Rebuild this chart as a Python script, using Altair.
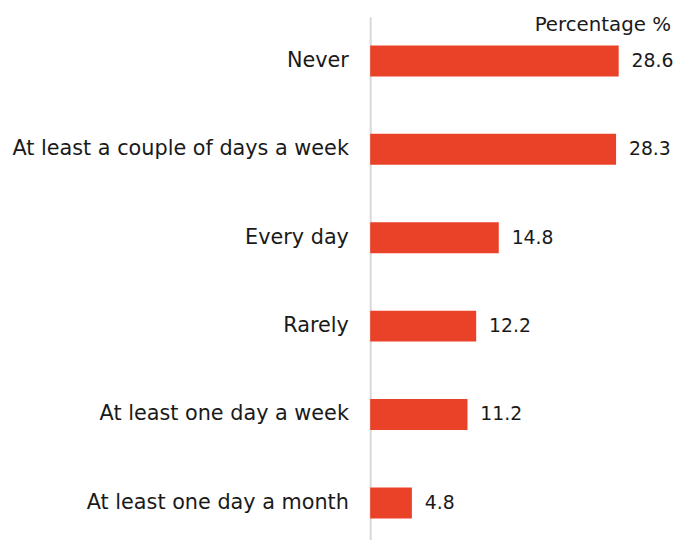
import altair as alt
import pandas as pd

categories = ["Never", "At least a couple of days a week", "Every day", "Rarely",
              "At least one day a week", "At least one day a month"]
values = [28.6, 28.3, 14.8, 12.2, 11.2, 4.8]
labels = ["28.6", "28.3", "14.8", "12.2", "11.2", "4.8"]

df = pd.DataFrame({"cat": categories, "val": values, "lab": labels})

FONT = "DejaVu Sans"
COLOR = "#E94228"
W = 306
H = 526
FS = 21

y = alt.Y("cat:N", sort=categories,
          scale=alt.Scale(range=[0, 536], paddingInner=0.65, paddingOuter=0.325),
          axis=alt.Axis(title=None, ticks=False, labelFont=FONT, labelFontSize=FS,
                        labelColor="#1a1a1a", labelPadding=22, domainColor="#d9d9d9",
                        domainWidth=2, labelLimit=400))
x = alt.X("val:Q", scale=alt.Scale(domain=[0, W / 8.78], nice=False, zero=True),
          axis=None)

bars = alt.Chart(df).mark_bar(color=COLOR).encode(x=x, y=y)
text = alt.Chart(df).mark_text(align="left", dx=13, font=FONT, fontSize=19,
                               color="#1a1a1a").encode(x=x, y=y, text="lab:N")
title = alt.Chart(pd.DataFrame({"t": ["Percentage %"]})).mark_text(
    align="right", baseline="bottom", font=FONT, fontSize=20, color="#1a1a1a"
).encode(x=alt.value(304), y=alt.value(18), text="t:N")

chart = alt.layer(bars, text, title).properties(
    width=W, height=H,
    autosize="none",
    padding={"left": 366, "top": 6, "right": 0, "bottom": 0},
).configure(background="white").configure_view(stroke=None, strokeWidth=0)

chart.save("out.html", embed_options={"renderer": "svg", "actions": False})
